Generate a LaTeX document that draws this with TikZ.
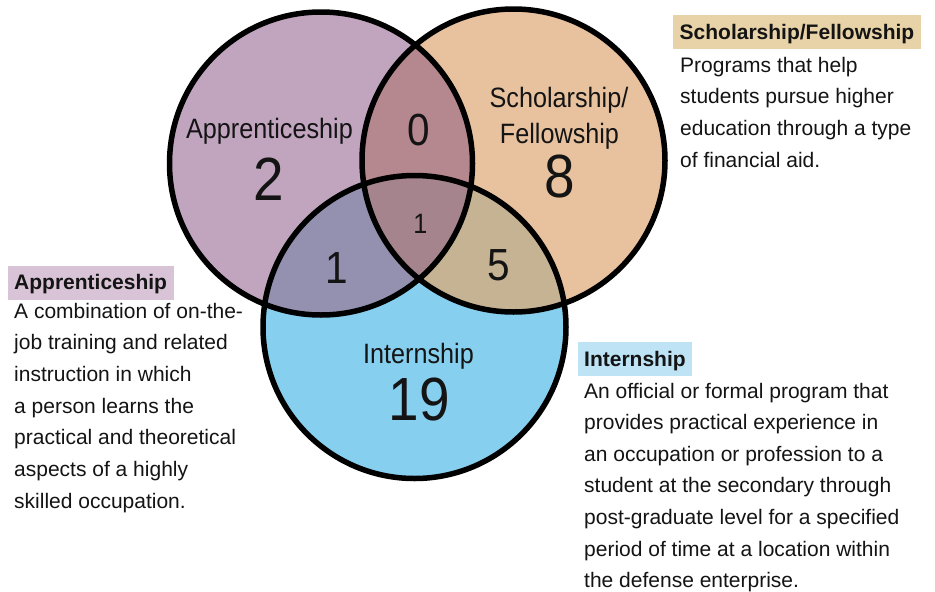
\documentclass[tikz,border=0pt]{standalone}
\usepackage{fontspec}
\setmainfont{Liberation Sans}
\newfontfamily\narrowfont{Liberation Sans}[FakeStretch=0.9]
\definecolor{colA}{HTML}{C1A5BF}
\definecolor{colS}{HTML}{E8C29E}
\definecolor{colI}{HTML}{87CFEF}
\definecolor{colAS}{HTML}{B5878F}
\definecolor{colAI}{HTML}{9490B0}
\definecolor{colSI}{HTML}{C5B393}
\definecolor{colASI}{HTML}{A6848E}
\definecolor{hdrA}{HTML}{D9C3D6}
\definecolor{hdrS}{HTML}{E8D3A8}
\definecolor{hdrI}{HTML}{BDE3F5}
\definecolor{ink}{HTML}{141414}
\tikzset{
  hdr/.style={anchor=base west, font=\fontsize{21}{25}\selectfont\bfseries, text=ink,
    text height=17.5pt, text depth=3.5pt, inner xsep=6.5pt, inner ysep=6.5pt},
  descline/.style={anchor=base west, text=ink,
    font=\fontsize{21}{25}\selectfont, inner sep=0pt},
  lbl/.style={anchor=base, text=ink,
    font=\narrowfont\fontsize{28}{32}\selectfont, inner sep=0pt},
  bignum/.style={anchor=base, text=ink, font=\narrowfont\fontsize{61}{61}\selectfont, inner sep=0pt},
  midnum/.style={anchor=base, text=ink, font=\narrowfont\fontsize{45}{45}\selectfont, inner sep=0pt},
  smallnum/.style={anchor=base, text=ink, font=\narrowfont\fontsize{28}{28}\selectfont, inner sep=0pt},
  ring/.style={draw=black, line width=5.5pt}
}
\begin{document}
\begin{tikzpicture}[x=1pt,y=-1pt]
\useasboundingbox[fill=white] (0,0) rectangle (935,592);
\coordinate (cA) at (321,163.5);
\coordinate (cS) at (513.5,160.5);
\coordinate (cI) at (414.5,327);
\def\R{151.5pt}
% base fills
\fill[colA] (cA) circle[radius=\R];
\fill[colS] (cS) circle[radius=\R];
\fill[colI] (cI) circle[radius=\R];
% pairwise overlaps
\begin{scope}
  \clip (cA) circle[radius=\R];
  \fill[colAS] (cS) circle[radius=\R];
  \fill[colAI] (cI) circle[radius=\R];
\end{scope}
\begin{scope}
  \clip (cS) circle[radius=\R];
  \fill[colSI] (cI) circle[radius=\R];
\end{scope}
\begin{scope}
  \clip (cA) circle[radius=\R];
  \clip (cS) circle[radius=\R];
  \fill[colASI] (cI) circle[radius=\R];
\end{scope}
% outlines
\draw[ring] (cA) circle[radius=\R];
\draw[ring] (cS) circle[radius=\R];
\draw[ring] (cI) circle[radius=\R];
% circle labels
\node[lbl] (lA) at (269.5,138) {Apprenticeship};
\node[bignum] (nA) at (269,200) {2};
\node[lbl] (lS1) at (559,107) {Scholarship/};
\node[lbl] (lS2) at (559.5,143) {Fellowship};
\node[bignum] (nS) at (559.5,197) {8};
\node[lbl] (lI) at (418.5,363) {Internship};
\node[bignum] (nI) at (419.5,420) {19};
\node[midnum] (nAS) at (418.5,145) {0};
\node[midnum] (nAI) at (337,283) {1};
\node[midnum] (nSI) at (498.5,280) {5};
\node[smallnum] (nASI) at (420.5,233) {1};
% descriptions
\node[hdr, fill=hdrS] (hS) at (673,39) {Scholarship/Fellowship};
\foreach \t [count=\i from 0] in {Programs that help,students pursue higher,education through a type,of financial aid.}
  \node[descline] (dS\i) at (680,72+31.7*\i) {\t};
\node[hdr, fill=hdrA] (hA) at (7.5,289.5) {Apprenticeship};
\foreach \t [count=\i from 0] in {A combination of on-the-,job training and related,instruction in which,a person learns the,practical and theoretical,aspects of a highly,skilled occupation.}
  \node[descline] (dA\i) at (14,318+31.7*\i) {\t};
\node[hdr, fill=hdrI] (hI) at (577.5,366) {Internship};
\foreach \t [count=\i from 0] in {An official or formal program that,provides practical experience in,an occupation or profession to a,student at the secondary through,post-graduate level for a specified,period of time at a location within,the defense enterprise.}
  \node[descline] (dI\i) at (584,398+31.65*\i) {\t};
\end{tikzpicture}
\end{document}
